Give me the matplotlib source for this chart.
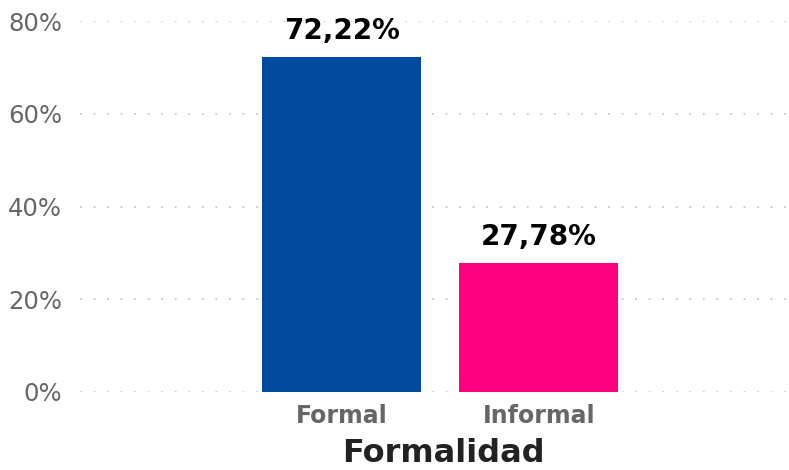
import matplotlib.pyplot as plt
from matplotlib.ticker import FuncFormatter

categories = ['Formal', 'Informal']
values = [72.22, 27.78]
labels = ['72,22%', '27,78%']
colors = ['#004a9f', '#ff007f']
yticks = [0, 20, 40, 60, 80]

fig = plt.figure(figsize=(7.89, 4.70), dpi=100)
ax = fig.add_axes([0.1014, 0.166, 0.8986, 0.789])

x = range(len(categories))
bars = ax.bar(x, values, width=0.807, color=colors, zorder=3)

for b, lab in zip(bars, labels):
    ax.text(b.get_x() + b.get_width() / 2, b.get_height() + 3.9, lab,
            ha='center', va='baseline', fontsize=20, fontweight='bold',
            color='black', clip_on=False)

ax.set_xlim(-1.33, 2.27)
ax.set_ylim(0, 80)
ax.set_yticks(yticks)
ax.yaxis.set_major_formatter(FuncFormatter(lambda v, p: f'{v:.0f}%'))
ax.set_xticks(list(x))
ax.set_xticklabels(categories, fontsize=17, fontweight='bold', color='#666666')
ax.tick_params(axis='y', labelsize=17.5, colors='#666666', length=0, pad=13)
ax.tick_params(axis='x', length=0, pad=9)
ax.grid(axis='y', color='#c8c8c8', linestyle=(0, (1, 6.5)), linewidth=1.3, zorder=0)
for s in ax.spines.values():
    s.set_visible(False)

ax.set_xlabel('Formalidad', fontsize=23, fontweight='bold', color='#222222')
ax.xaxis.set_label_coords(0.512, -0.125)

fig.savefig('out.png', dpi=100)
